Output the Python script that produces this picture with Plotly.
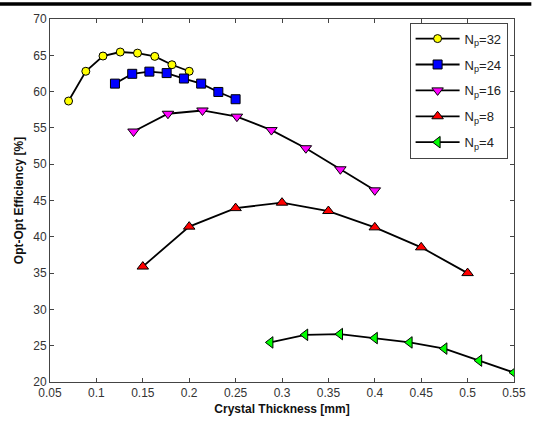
import plotly.graph_objects as go

# Data
x32 = [0.07, 0.0886, 0.1071, 0.1257, 0.1443, 0.1629, 0.1814, 0.2]
y32 = [58.7, 62.8, 64.9, 65.45, 65.3, 64.85, 63.7, 62.8]

x24 = [0.12, 0.1386, 0.1571, 0.1757, 0.1943, 0.2129, 0.2314, 0.25]
y24 = [61.1, 62.45, 62.75, 62.55, 61.8, 61.1, 59.95, 58.95]

x16 = [0.14, 0.1771, 0.2143, 0.2514, 0.2886, 0.3257, 0.3629, 0.4]
y16 = [54.5, 56.95, 57.4, 56.55, 54.7, 52.2, 49.3, 46.4]

x8 = [0.15, 0.2, 0.25, 0.3, 0.35, 0.4, 0.45, 0.5]
y8 = [35.9, 41.4, 43.95, 44.7, 43.55, 41.3, 38.55, 35.0]

x4 = [0.2875, 0.325, 0.3625, 0.4, 0.4375, 0.475, 0.5125, 0.55]
y4 = [25.45, 26.5, 26.6, 26.05, 25.45, 24.6, 22.95, 21.3]

series = [
    ("N<sub>p</sub>=32", x32, y32, "circle", "#FFFF00", 8),
    ("N<sub>p</sub>=24", x24, y24, "square", "#0000FF", 9),
    ("N<sub>p</sub>=16", x16, y16, "triangle-down", "#FF00FF", 10),
    ("N<sub>p</sub>=8", x8, y8, "triangle-up", "#FF0000", 10),
    ("N<sub>p</sub>=4", x4, y4, "triangle-left", "#00FF00", 10),
]

xticks = [0.05, 0.1, 0.15, 0.2, 0.25, 0.3, 0.35, 0.4, 0.45, 0.5, 0.55]
xticklabels = ["0.05", "0.1", "0.15", "0.2", "0.25", "0.3", "0.35", "0.4", "0.45", "0.5", "0.55"]
yticks = [20, 25, 30, 35, 40, 45, 50, 55, 60, 65, 70]

fig = go.Figure()
for i, (name, xs, ys, sym, col, sz) in enumerate(series):
    fig.add_trace(go.Scatter(
        x=xs, y=ys, mode="lines+markers", name=name,
        legendgroup=str(i),
        line=dict(color="black", width=1.8),
        marker=dict(symbol=sym, color=col, size=sz, line=dict(color="black", width=1)),
    ))

W, H = 538, 426
L, R, T, B = 50, 13, 16, 43
ph = H - T - B

fig.update_layout(
    width=W, height=H,
    margin=dict(l=L, r=R, t=T, b=B),
    paper_bgcolor="white", plot_bgcolor="white",
    font=dict(family="Arial, Liberation Sans, sans-serif", size=12, color="#222"),
    showlegend=True,
    legend=dict(
        x=0.775, y=0.99, xanchor="left", yanchor="top",
        bordercolor="#444", borderwidth=1, bgcolor="white",
        font=dict(size=13, color="#222"),
        tracegroupgap=6, traceorder="grouped",
        itemwidth=44,
    ),
    xaxis=dict(
        range=[0.05, 0.55], tickvals=xticks, ticktext=xticklabels,
        ticks="inside", ticklen=4, tickcolor="#444", mirror="ticks",
        showline=True, linecolor="#444", linewidth=1, showgrid=False, zeroline=False,
        title=dict(text="<b>Crystal Thickness [mm]</b>", font=dict(size=12, color="#111"), standoff=5),
        tickfont=dict(size=12, color="#333"),
    ),
    yaxis=dict(
        range=[20, 70], tickvals=yticks,
        ticks="inside", ticklen=4, tickcolor="#444", mirror="ticks",
        showline=True, linecolor="#444", linewidth=1, showgrid=False, zeroline=False,
        title=dict(text="<b>Opt-Opt Efficiency [%]</b>", font=dict(size=12, color="#111"), standoff=7),
        tickfont=dict(size=12, color="#333"),
    ),
    shapes=[dict(
        type="rect", xref="paper", yref="paper",
        x0=-L / (W - L - R) - 0.01, x1=1 + R / (W - L - R) + 0.01,
        y0=1 + (T - 2.5) / ph, y1=1 + (T + 1) / ph,
        fillcolor="black", line=dict(width=0), layer="above",
    )],
)

fig.write_html("out.html")
